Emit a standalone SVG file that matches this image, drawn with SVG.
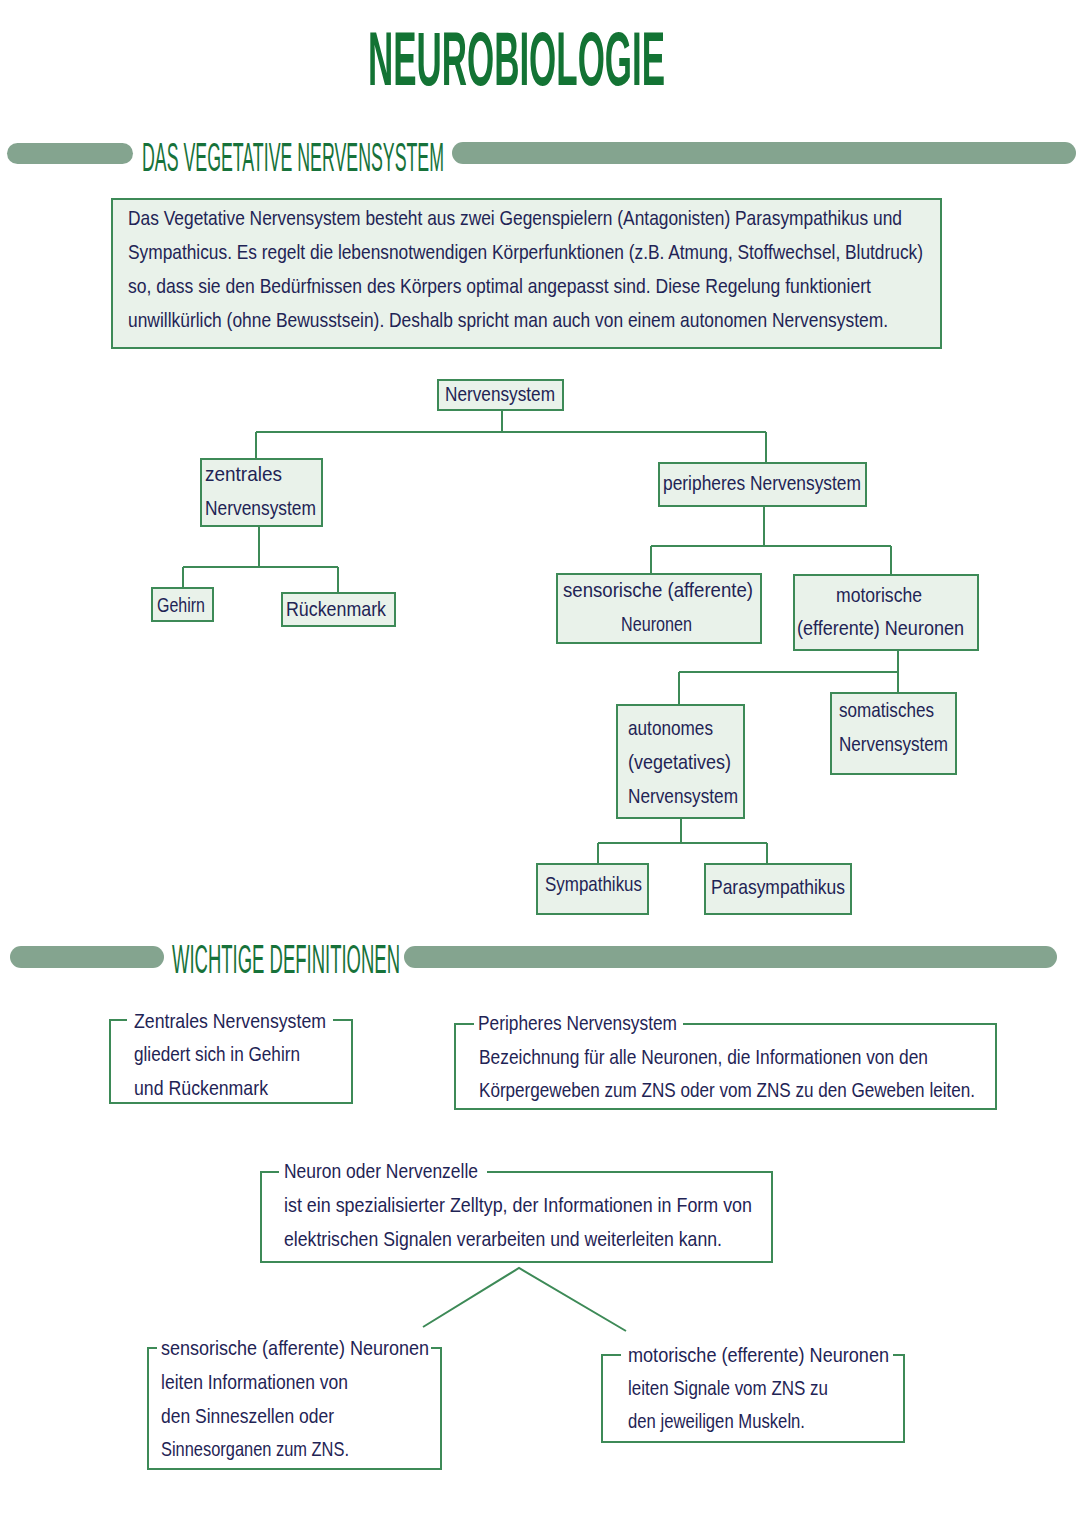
<svg xmlns="http://www.w3.org/2000/svg" width="1080" height="1527" viewBox="0 0 1080 1527">
<style>
.bg{fill:#ffffff}
.bar{fill:#84a48f}
.node{fill:#e9f2ea;stroke:#3d8a57;stroke-width:2}
.frame{fill:none;stroke:#3d8a57;stroke-width:2}
.conn{fill:none;stroke:#3d8a57;stroke-width:2}
.t{font-family:"Liberation Sans",Arial,sans-serif;font-size:21px;fill:#1f2455}
.tc{text-anchor:middle}
.title{font-family:"Liberation Sans",Arial,sans-serif;font-size:76px;font-weight:bold;fill:#137334}
.head{font-family:"Liberation Sans",Arial,sans-serif;font-size:40px;fill:#17723a}
</style>
<rect class="bg" x="0" y="0" width="1080" height="1527"/>

<text class="title" x="368" y="85" textLength="297" lengthAdjust="spacingAndGlyphs">NEUROBIOLOGIE</text>

<g id="header1">
<rect class="bar" x="7" y="143" width="126" height="21" rx="10.5"/>
<rect class="bar" x="452" y="142" width="624" height="22" rx="11"/>
<text class="head" x="142" y="171" textLength="302" lengthAdjust="spacingAndGlyphs">DAS VEGETATIVE NERVENSYSTEM</text>
</g>

<g id="intro">
<rect class="node" x="112" y="199" width="829" height="149"/>
<text class="t" x="128" y="225" font-size="22" textLength="774" lengthAdjust="spacingAndGlyphs">Das Vegetative Nervensystem besteht aus zwei Gegenspielern (Antagonisten) Parasympathikus und</text>
<text class="t" x="128" y="259" font-size="22" textLength="795" lengthAdjust="spacingAndGlyphs">Sympathicus. Es regelt die lebensnotwendigen Körperfunktionen (z.B. Atmung, Stoffwechsel, Blutdruck)</text>
<text class="t" x="128" y="293" font-size="22" textLength="743" lengthAdjust="spacingAndGlyphs">so, dass sie den Bedürfnissen des Körpers optimal angepasst sind. Diese Regelung funktioniert</text>
<text class="t" x="128" y="327" font-size="22" textLength="760" lengthAdjust="spacingAndGlyphs">unwillkürlich (ohne Bewusstsein). Deshalb spricht man auch von einem autonomen Nervensystem.</text>
</g>

<g id="connectors">
<path class="conn" d="M502 410 V432 M256 432 H766 M256 432 V459 M766 432 V463"/>
<path class="conn" d="M259 526 V567 M183 567 H338 M183 567 V588 M338 567 V593"/>
<path class="conn" d="M764 506 V546 M651 546 H891 M651 546 V574 M891 546 V575"/>
<path class="conn" d="M898 650 V672 M679 672 H898 M679 672 V705 M898 672 V693"/>
<path class="conn" d="M681 818 V843 M598 843 H767 M598 843 V864 M767 843 V864"/>
<path class="conn" d="M423 1327 L519 1268 L626 1331"/>
</g>

<g id="n-nervensystem">
<rect class="node" x="438" y="380" width="125" height="30"/>
<text class="t tc" x="500" y="401" textLength="110" lengthAdjust="spacingAndGlyphs">Nervensystem</text>
</g>
<g id="n-zns">
<rect class="node" x="201" y="459" width="121" height="67"/>
<text class="t" x="205" y="481" textLength="77" lengthAdjust="spacingAndGlyphs">zentrales</text>
<text class="t" x="205" y="515" textLength="111" lengthAdjust="spacingAndGlyphs">Nervensystem</text>
</g>
<g id="n-gehirn">
<rect class="node" x="152" y="588" width="61" height="33"/>
<text class="t" x="157" y="612" textLength="48" lengthAdjust="spacingAndGlyphs">Gehirn</text>
</g>
<g id="n-rueckenmark">
<rect class="node" x="282" y="593" width="113" height="33"/>
<text class="t" x="286" y="616" textLength="100" lengthAdjust="spacingAndGlyphs">Rückenmark</text>
</g>
<g id="n-pns">
<rect class="node" x="659" y="463" width="207" height="43"/>
<text class="t" x="663" y="490" textLength="198" lengthAdjust="spacingAndGlyphs">peripheres Nervensystem</text>
</g>
<g id="n-sensorisch">
<rect class="node" x="557" y="574" width="204" height="69"/>
<text class="t" x="563" y="597" textLength="190" lengthAdjust="spacingAndGlyphs">sensorische (afferente)</text>
<text class="t" x="621" y="631" textLength="71" lengthAdjust="spacingAndGlyphs">Neuronen</text>
</g>
<g id="n-motorisch">
<rect class="node" x="794" y="575" width="184" height="75"/>
<text class="t" x="836" y="602" textLength="86" lengthAdjust="spacingAndGlyphs">motorische</text>
<text class="t" x="797" y="635" textLength="167" lengthAdjust="spacingAndGlyphs">(efferente) Neuronen</text>
</g>
<g id="n-autonom">
<rect class="node" x="617" y="705" width="127" height="113"/>
<text class="t" x="628" y="735" textLength="85" lengthAdjust="spacingAndGlyphs">autonomes</text>
<text class="t" x="628" y="769" textLength="103" lengthAdjust="spacingAndGlyphs">(vegetatives)</text>
<text class="t" x="628" y="803" textLength="110" lengthAdjust="spacingAndGlyphs">Nervensystem</text>
</g>
<g id="n-somatisch">
<rect class="node" x="831" y="693" width="125" height="81"/>
<text class="t" x="839" y="717" textLength="95" lengthAdjust="spacingAndGlyphs">somatisches</text>
<text class="t" x="839" y="751" textLength="109" lengthAdjust="spacingAndGlyphs">Nervensystem</text>
</g>
<g id="n-sympathikus">
<rect class="node" x="537" y="864" width="111" height="50"/>
<text class="t" x="545" y="891" textLength="97" lengthAdjust="spacingAndGlyphs">Sympathikus</text>
</g>
<g id="n-parasympathikus">
<rect class="node" x="705" y="864" width="146" height="50"/>
<text class="t" x="711" y="894" textLength="134" lengthAdjust="spacingAndGlyphs">Parasympathikus</text>
</g>

<g id="header2">
<rect class="bar" x="10" y="946" width="154" height="22" rx="11"/>
<rect class="bar" x="404" y="946" width="653" height="22" rx="11"/>
<text class="head" x="172" y="973" textLength="228" lengthAdjust="spacingAndGlyphs">WICHTIGE DEFINITIONEN</text>
</g>

<g id="d-zns">
<path class="frame" d="M127 1020 H110 V1103 H352 V1020 H333"/>
<text class="t" x="134" y="1028" textLength="192" lengthAdjust="spacingAndGlyphs">Zentrales Nervensystem</text>
<text class="t" x="134" y="1061" textLength="166" lengthAdjust="spacingAndGlyphs">gliedert sich in Gehirn</text>
<text class="t" x="134" y="1095" textLength="134" lengthAdjust="spacingAndGlyphs">und Rückenmark</text>
</g>
<g id="d-pns">
<path class="frame" d="M474 1024 H455 V1109 H996 V1024 H683"/>
<text class="t" x="478" y="1030" textLength="199" lengthAdjust="spacingAndGlyphs">Peripheres Nervensystem</text>
<text class="t" x="479" y="1064" textLength="449" lengthAdjust="spacingAndGlyphs">Bezeichnung für alle Neuronen, die Informationen von den</text>
<text class="t" x="479" y="1097" textLength="496" lengthAdjust="spacingAndGlyphs">Körpergeweben zum ZNS oder vom ZNS zu den Geweben leiten.</text>
</g>
<g id="d-neuron">
<path class="frame" d="M279 1172 H261 V1262 H772 V1172 H487"/>
<text class="t" x="284" y="1178" textLength="194" lengthAdjust="spacingAndGlyphs">Neuron oder Nervenzelle</text>
<text class="t" x="284" y="1212" textLength="468" lengthAdjust="spacingAndGlyphs">ist ein spezialisierter Zelltyp, der Informationen in Form von</text>
<text class="t" x="284" y="1246" textLength="438" lengthAdjust="spacingAndGlyphs">elektrischen Signalen verarbeiten und weiterleiten kann.</text>
</g>
<g id="d-sensorisch">
<path class="frame" d="M157 1348 H148 V1469 H441 V1348 H431"/>
<text class="t" x="161" y="1355" textLength="268" lengthAdjust="spacingAndGlyphs">sensorische (afferente) Neuronen</text>
<text class="t" x="161" y="1389" textLength="187" lengthAdjust="spacingAndGlyphs">leiten Informationen von</text>
<text class="t" x="161" y="1423" textLength="173" lengthAdjust="spacingAndGlyphs">den Sinneszellen oder</text>
<text class="t" x="161" y="1456" textLength="188" lengthAdjust="spacingAndGlyphs">Sinnesorganen zum ZNS.</text>
</g>
<g id="d-motorisch">
<path class="frame" d="M621 1355 H602 V1442 H904 V1355 H893"/>
<text class="t" x="628" y="1362" textLength="261" lengthAdjust="spacingAndGlyphs">motorische (efferente) Neuronen</text>
<text class="t" x="628" y="1395" textLength="200" lengthAdjust="spacingAndGlyphs">leiten Signale vom ZNS zu</text>
<text class="t" x="628" y="1428" textLength="177" lengthAdjust="spacingAndGlyphs">den jeweiligen Muskeln.</text>
</g>
</svg>
